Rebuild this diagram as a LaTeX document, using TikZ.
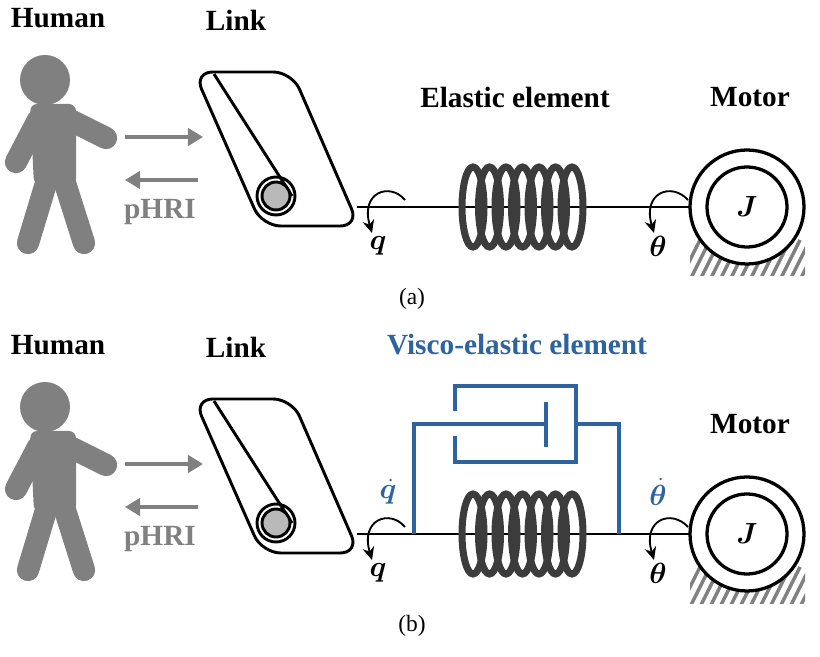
\documentclass[tikz,border=0pt]{standalone}
\usepackage{amsmath,bm}
\usepackage{fontspec}
\setmainfont{Liberation Serif}
\usetikzlibrary{calc,arrows.meta}

\definecolor{human}{RGB}{128,128,128}
\definecolor{visco}{RGB}{46,100,158}
\definecolor{coil}{RGB}{60,60,60}

\tikzset{
  lbl/.style={font=\fontsize{25}{27}\selectfont\bfseries},
  sym/.style={font=\fontsize{24}{26}\selectfont},
  body/.style={line width=19pt, human, line cap=round},
  force/.style={human, line width=3pt, -{Triangle[length=13pt,width=15pt]}},
  edge/.style={line width=2.5pt},
  spin/.style={line width=1.6pt, -{Stealth[length=11pt,width=10pt]}},
  damp/.style={visco, line width=2.8pt}
}

\begin{document}
\begin{tikzpicture}[x=0.3mm,y=-0.3mm]
  \useasboundingbox (0,0) rectangle (820,657);

  \foreach \p/\dy/\cap in {a/0/(a),b/327/(b)} {
    \begin{scope}[yshift=-\dy*0.3mm]
      % human
      \fill[human] (45,80) circle (25);
      \fill[human, rounded corners=6pt] (30,104) -- (76,104) -- (76,185) -- (34,185) -- cycle;
      \draw[body] (70,120) -- (106,138);
      \draw[body] (38,120) -- (16,162);
      \draw[body] (47,180) -- (28,243);
      \draw[body] (64,180) -- (84,243);
      \node[lbl] (human-\p) at (58,18) {Human};
      \coordinate (hr-\p) at (125,137);
      \coordinate (hl-\p) at (125,180);
      \node[lbl, human] (phri-\p) at (160,212) {pHRI};

      % link
      \node[lbl] (linklbl-\p) at (236,20) {Link};
      \draw[edge, rounded corners=16pt] (194,72) -- (292,72) -- (359,226) -- (262,226) -- cycle;
      \draw[edge] (214,74) -- (292,196);
      \draw[edge] (276,196) circle (19);
      \draw[edge, fill=gray!55] (276,196) circle (14);
      \coordinate (link-\p) at (203,137);
      \coordinate (link2-\p) at (198,180);
      \draw[force] (hr-\p) -- (link-\p);
      \draw[force] (link2-\p) -- (hl-\p);

      % motor
      \node[lbl] (motorlbl-\p) at (750,97) {Motor};
      \begin{scope}
        \clip (690,240) rectangle (805,276);
        \foreach \k in {0,...,14} \draw[gray, line width=3pt] (680+\k*10,280) -- (700+\k*10,240);
      \end{scope}
      \draw[edge, line width=2.8pt, fill=white] (747,207) circle (57);
      \draw[edge, line width=2.8pt] (747,207) circle (40);
      \node[sym] (motor-\p) at (747,207) {$\bm{J}$};

      % shaft and spring
      \coordinate (shaftL-\p) at (357,207);
      \coordinate (shaftR-\p) at (690,207);
      \draw[edge] (shaftL-\p) -- (shaftR-\p);
      \foreach \c in {0,...,6}
        \draw[coil, line width=6pt] (473+\c*16.5,207) ellipse (11 and 40);

      % rotations
      \draw[spin] (405,200) .. controls (390,182) and (360,192) .. (372,233);
      \node[sym] (q-\p) at (378,246) {$\bm{q}$};
      \draw[spin] (688,200) .. controls (672,182) and (642,192) .. (654,233);
      \node[sym] (th-\p) at (658,246) {$\bm{\theta}$};

      \node[font=\fontsize{20}{22}\selectfont] (cap-\p) at (412,299) {\cap};
    \end{scope}
  }

  \node[lbl] (elastic) at (515,97) {Elastic element};

  % visco-elastic part
  \node[lbl, visco] (visco) at (517,345) {Visco-elastic element};
  \node[sym, visco] (qd) at (388,492) {$\dot{\bm{q}}$};
  \node[sym, visco] (thd) at (658,492) {$\dot{\bm{\theta}}$};
  \draw[damp] (414,534) -- (414,424) -- (546,424);
  \draw[damp] (546,402) -- (546,447);
  \draw[damp] (455,411) -- (455,386) -- (576,386) -- (576,462) -- (455,462) -- (455,436);
  \draw[damp] (576,424) -- (619,424) -- (619,534);
\end{tikzpicture}
\end{document}
